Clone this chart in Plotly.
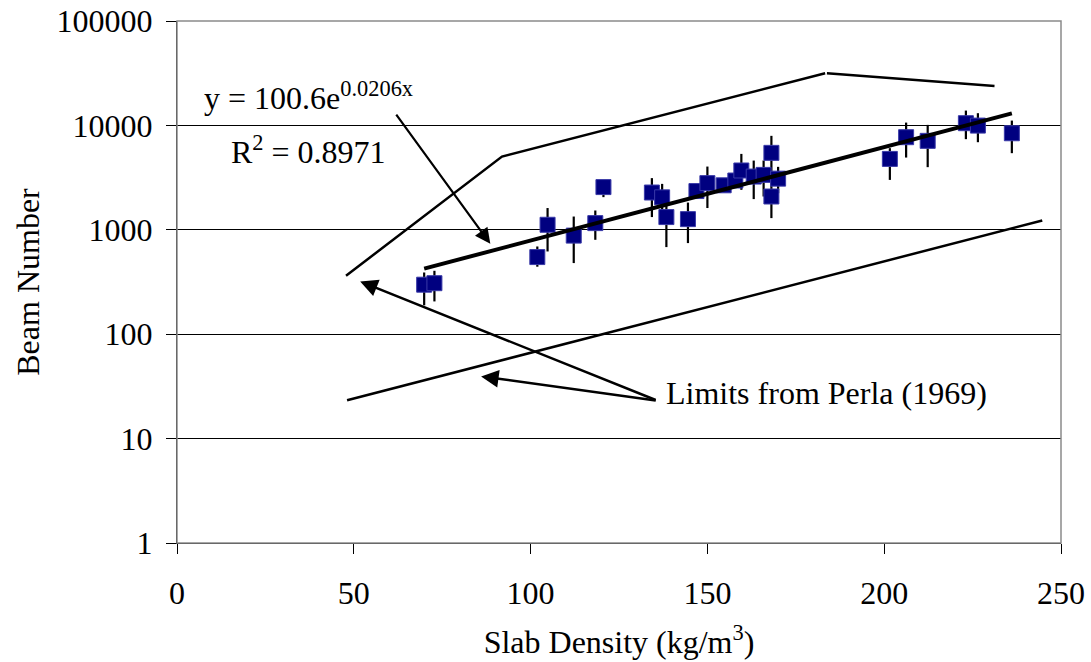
import numpy as np
import plotly.graph_objects as go

# ---- data ----
density = [69.9, 72.8, 101.9, 104.8, 112.2, 118.3, 120.6, 134.3, 137.2, 138.4,
           144.5, 146.9, 150.0, 154.6, 157.9, 159.6, 163.1, 165.9, 168.1, 168.1,
           170.0, 201.6, 206.2, 212.3, 223.1, 226.5, 236.1]
beam = [298, 308, 548, 1117, 880, 1159, 2565, 2275, 2046, 1324,
        1265, 2350, 2799, 2668, 2965, 3699, 3236, 3357, 5458, 2084,
        3090, 4775, 7709, 7113, 10500, 9960, 8410]
beam_low = [189, 206, 443, 620, 480, 802, 2055, 1324, 1393, 683,
            746, 2100, 1616, 2400, 2700, 2415, 1968, 2084, 3589, 1294,
            2240, 3006, 4920, 3981, 7380, 6902, 5420]
beam_high = [390, 405, 692, 1616, 1340, 1531, 2944, 3126, 2754, 1700,
             1823, 2650, 4034, 2950, 3250, 5333, 4604, 4604, 7943, 3006,
             4009, 6053, 10640, 10115, 13870, 13090, 11120]

# exponential trend line shown on the chart: y = 100.6 e^(0.0206 x)
fit_a = 100.6
fit_b = 0.0206

# limits from Perla (1969)
perla_upper_x = [47.8, 91.9, 183.3, None, 183.8, 231.2]
perla_upper_y = [363, 5023, 31600, None, 31600, 23870]
perla_lower_x = [48.1, 244.7]
perla_lower_y = [23.3, 1228]

x_ticks = [0, 50, 100, 150, 200, 250]
y_ticks = [1, 10, 100, 1000, 10000, 100000]
y_tick_text = ["1", "10", "100", "1000", "10000", "100000"]

FONT = "Times New Roman, Liberation Serif, serif"
FS = 32

b = np.array(beam)
err_plus = np.array(beam_high) - b
err_minus = b - np.array(beam_low)

trend_x = np.linspace(min(density), max(density), 200)
trend_y = fit_a * np.exp(fit_b * trend_x)

fig = go.Figure()

fig.add_trace(go.Scatter(
    x=density, y=beam, mode="markers",
    marker=dict(symbol="square", size=15, color="#000080",
                line=dict(color="#3a3aa8", width=1)),
    error_y=dict(type="data", symmetric=False, array=err_plus,
                 arrayminus=err_minus, color="black", thickness=2.2, width=0),
    showlegend=False))

fig.add_trace(go.Scatter(
    x=trend_x, y=trend_y, mode="lines",
    line=dict(color="black", width=4), showlegend=False))

fig.add_trace(go.Scatter(
    x=perla_upper_x, y=perla_upper_y, mode="lines",
    line=dict(color="black", width=2.5), showlegend=False))
fig.add_trace(go.Scatter(
    x=perla_lower_x, y=perla_lower_y, mode="lines",
    line=dict(color="black", width=2.5), showlegend=False))

# plot area target in page pixels: x 177..1061, y 21..543.5 (body margin removed)
PL, PR, PT, PB = 177, 1061, 21, 543.5
PW, PH = PR - PL, PB - PT


def px(xp):
    return (xp - PL) / PW


def py(yp):
    return (PB - yp) / PH


annotations = [
    # arrows
    dict(x=88.6, y=2.866, ax=61.7, ay=4.117, xref="x", yref="y",
         axref="x", ayref="y", text="", showarrow=True, arrowhead=2,
         arrowsize=1.4, arrowwidth=2.2, arrowcolor="black"),
    dict(x=51.8, y=2.505, ax=135.8, ay=1.364, xref="x", yref="y",
         axref="x", ayref="y", text="", showarrow=True, arrowhead=2,
         arrowsize=1.4, arrowwidth=2.5, arrowcolor="black"),
    dict(x=86.0, y=1.596, ax=135.8, ay=1.364, xref="x", yref="y",
         axref="x", ayref="y", text="", showarrow=True, arrowhead=2,
         arrowsize=1.4, arrowwidth=2.5, arrowcolor="black"),
    # texts
    dict(x=px(664), y=py(393), xref="paper", yref="paper",
         text="Limits from Perla (1969)", showarrow=False, xanchor="left",
         yanchor="middle", font=dict(family=FONT, size=FS, color="black")),
    dict(x=px(308), y=py(96), xref="paper", yref="paper",
         text="y = 100.6e<sup>0.0206x</sup>", showarrow=False, xanchor="center",
         yanchor="middle", font=dict(family=FONT, size=FS, color="black")),
    dict(x=px(308), y=py(150), xref="paper", yref="paper",
         text="R<sup>2</sup> = 0.8971", showarrow=False, xanchor="center",
         yanchor="middle", font=dict(family=FONT, size=FS, color="black")),
]

fig.update_layout(
    width=1091, height=662,
    margin=dict(l=PL, r=1091 - PR, t=PT, b=662 - PB, pad=0),
    paper_bgcolor="white", plot_bgcolor="white",
    font=dict(family=FONT, size=FS, color="black"),
    annotations=annotations,
    shapes=[dict(type="rect", xref="paper", yref="paper", x0=0, x1=1, y0=0, y1=1,
                 line=dict(color="#8a8a8a", width=1.5), layer="above")],
    xaxis=dict(range=[0, 250], tickvals=x_ticks, showgrid=False, zeroline=False,
               automargin=False, ticklabeloverflow="allow",
               showline=True, linecolor="black", linewidth=1.2,
               ticks="outside", ticklen=10, tickcolor="black", tickwidth=1,
               ticklabelstandoff=11,
               title=dict(text="Slab Density (kg/m<sup>3</sup>)", standoff=21,
                          font=dict(family=FONT, size=FS))),
    yaxis=dict(type="log", range=[0, 5], tickvals=y_ticks, ticktext=y_tick_text,
               showgrid=True, gridcolor="black", gridwidth=1, zeroline=False,
               automargin=False, ticklabeloverflow="allow",
               showline=True, linecolor="black", linewidth=1.2,
               ticks="outside", ticklen=10, tickcolor="black", tickwidth=1,
               ticklabelstandoff=7,
               title=dict(text="Beam Number", standoff=7,
                          font=dict(family=FONT, size=FS))),
)

fig.write_html("out.html",
               config={"displayModeBar": False},
               post_script="document.body.style.margin='0';")
